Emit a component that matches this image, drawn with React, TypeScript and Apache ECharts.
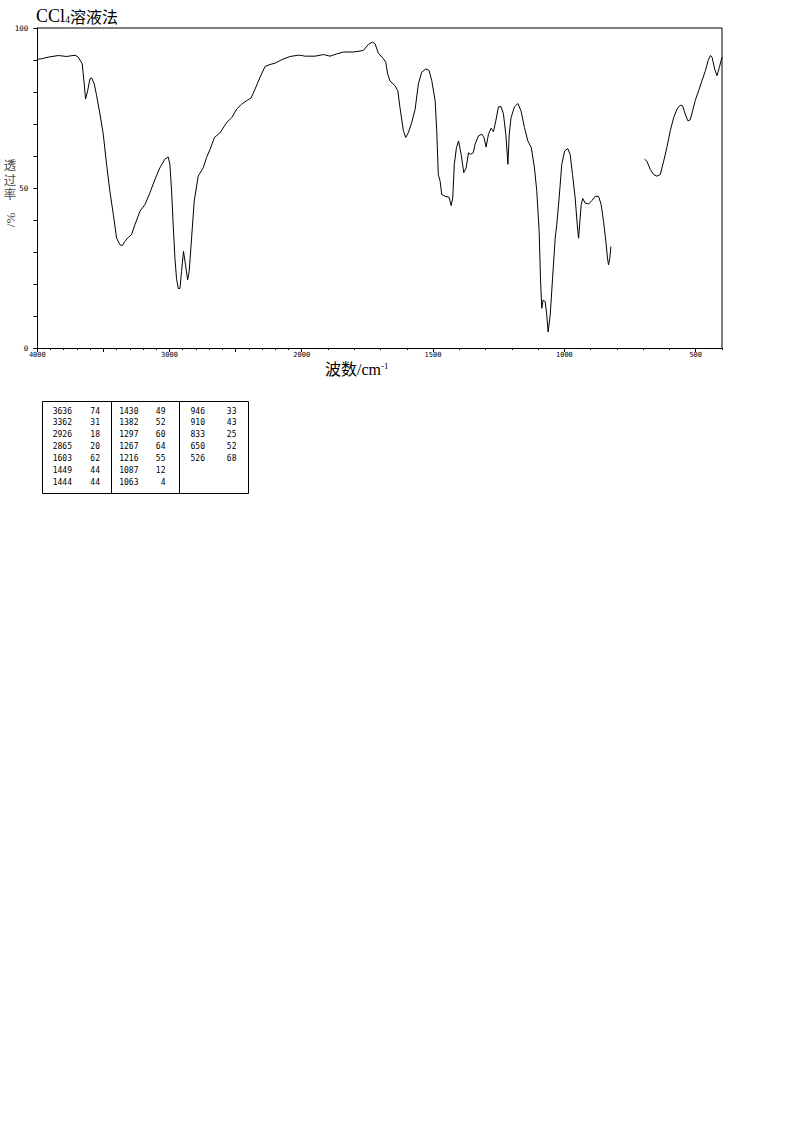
import React, { useEffect, useRef } from "react";
import * as echarts from "echarts";

// ---- Spectrum data (wavenumber cm-1, transmittance %) ----
const highWn = [4000,3967,3917,3841,3778,3715,3690,3660,3645,3635,3619,3602,3589,3569,3551,3526,3501,3476,3451,3425,3400,3375,3357,3337,3312,3287,3262,3224,3186,3148,3110,3073,3035,3010,2997,2984,2972,2959,2947,2934,2921,2909,2894,2879,2863,2851,2833,2813,2783,2745,2720,2693,2660,2617,2567,2529,2491,2454,2416,2383,2353,2315,2277,2239,2202,2151,2088,2025,2000];
const highT = [90.2,90.4,90.9,91.4,91.1,91.5,90.9,88.8,82.5,77.8,80.4,84.1,84.4,82.5,78.8,73.1,66.8,57.4,49.0,41.7,34.3,32.3,32.0,33.3,34.6,35.4,38.5,42.7,44.8,48.5,52.7,56.3,59.0,59.7,57.4,49.0,38.5,28.1,21.8,18.6,18.6,23.9,30.2,26.0,21.3,23.9,34.3,45.9,53.7,56.3,59.5,62.1,65.8,67.3,70.5,72.0,74.7,76.2,77.3,78.1,80.9,84.6,88.0,88.6,89.0,90.1,91.1,91.5,91.4];

const midWn = [2000,1987,1949,1917,1892,1867,1841,1803,1778,1765,1746,1731,1721,1708,1689,1680,1673,1664,1645,1634,1626,1613,1604,1594,1581,1568,1556,1543,1528,1515,1505,1492,1486,1480,1473,1467,1454,1439,1431,1425,1419,1411,1403,1393,1383,1374,1365,1358,1347,1340,1327,1314,1306,1298,1289,1279,1270,1261,1251,1241,1232,1223,1215,1210,1203,1190,1177,1165,1152,1139,1126,1114,1105,1096,1091,1086,1081,1073,1067,1062,1054,1045,1035,1029,1020,1010,999,987,978,969,959,951,946,941,936,930,921,908,895,883,870,860,851,842,836,832,827,823];
const midT = [91.4,91.2,91.2,91.7,91.2,91.9,92.5,92.5,92.8,93.0,94.9,95.6,95.1,92.1,90.4,89.3,85.7,83.4,82.0,80.4,75.2,67.9,65.8,67.3,70.5,74.7,82.5,86.2,87.2,86.7,83.6,77.3,67.9,54.2,52.1,48.0,47.4,47.1,44.5,46.9,57.4,62.6,64.7,60.5,54.8,56.3,61.0,60.5,61.0,63.7,66.3,66.8,65.8,62.8,66.8,68.7,67.6,71.0,75.4,75.4,73.1,66.8,57.4,66.8,72.0,75.4,76.4,74.1,68.9,64.7,62.6,56.3,49.0,36.4,21.8,12.4,15.0,14.5,10.3,5.0,10.3,21.8,34.3,38.5,46.9,57.4,61.6,62.3,60.5,54.2,46.9,38.5,34.3,39.6,44.8,46.7,45.3,45.0,46.1,47.4,47.4,44.8,39.6,33.3,28.1,26.0,28.1,31.7];

const farWn = [695,686,673,660,648,635,622,610,597,584,571,559,550,540,530,521,512,502,489,476,463,453,444,438,428,419,410,400];
const farT = [59.0,58.4,55.8,54.2,53.7,54.2,58.4,62.6,67.9,72.0,74.7,75.9,75.7,73.1,71.0,71.3,74.1,77.3,80.4,83.6,86.7,89.8,91.4,90.9,87.2,85.1,87.7,90.9];

// ---- Peak table ----
const peakWn = [3636,3362,2926,2865,1603,1449,1444,1430,1382,1297,1267,1216,1087,1063,946,910,833,650,526];
const peakT = [74,31,18,20,62,44,44,49,52,60,64,55,12,4,33,43,25,52,68];

// ---- Texts / ticks ----
const titleMain = "CCl";
const titleSub = "4";
const titleCn = "溶液法";
const xName = "波数/cm";
const xNameSup = "-1";
const yNameChars = ["透", "过", "率"];
const yNameUnit = "/%";
const highLabels = [4000, 3000, 2000];
const lowLabels = [1500, 1000, 500];
const lowBigTicks = [500, 1000, 1500, 2000];
const yLabels = [0, 50, 100];

const zip = (a: number[], b: number[]) => a.map((v, i) => [v, b[i]]);

// layout (page pixels)
const PL = 37.3;
const PS = 301.7;
const PR = 722;
const PT = 28;
const PB = 348;

const tickFont = "DejaVu Sans Mono";
const serifCjk = '"Liberation Serif", "Noto Sans CJK SC"';

function buildTable() {
  const els: any[] = [];
  const x0 = 42, y0 = 401, w = 206, h = 92;
  els.push({ type: "rect", shape: { x: x0 + 0.5, y: y0 + 0.5, width: w, height: h }, style: { fill: "none", stroke: "#000", lineWidth: 1 } });
  [111.5, 179.5].forEach((x) =>
    els.push({ type: "line", shape: { x1: x, y1: y0 + 0.5, x2: x, y2: y0 + h + 0.5 }, style: { stroke: "#000", lineWidth: 1 } })
  );
  const wnRight = [72, 138.5, 205];
  const tRight = [100, 165.5, 236.5];
  peakWn.forEach((wn, i) => {
    const col = Math.floor(i / 7);
    const row = i % 7;
    const y = 411 + row * 11.9;
    els.push({ type: "text", x: wnRight[col], y, style: { text: String(wn), fontSize: 8, fontFamily: tickFont, fill: "#000", align: "right", verticalAlign: "middle" } });
    els.push({ type: "text", x: tRight[col], y, style: { text: String(peakT[i]), fontSize: 8, fontFamily: tickFont, fill: "#000", align: "right", verticalAlign: "middle" } });
  });
  return els;
}

export default function App() {
  const ref = useRef<HTMLDivElement>(null);
  useEffect(() => {
    const chart = echarts.init(ref.current!, null, { renderer: "svg" });
    const lineStyle = { color: "#000", width: 1 };
    const axisLine = { show: true, onZero: false, lineStyle: { color: "#000", width: 1 } };
    const option: any = {
      animation: false,
      grid: [
        { left: PL, top: PT, width: PS - PL, height: PB - PT },
        { left: PS, top: PT, width: PR - PS, height: PB - PT },
      ],
      xAxis: [
        {
          type: "value", gridIndex: 0, position: "bottom", inverse: true, min: 2000, max: 4000, interval: 100,
          axisLine, splitLine: { show: false },
          axisTick: { show: true, length: 2, lineStyle: { color: "#000" } },
          axisLabel: { fontSize: 7, fontFamily: tickFont, color: "#000", margin: 3, formatter: (v: number) => (highLabels.includes(v) ? String(v) : "") },
        },
        {
          type: "value", gridIndex: 0, position: "bottom", inverse: true, min: 2000, max: 4000, interval: 500,
          axisLine: { show: false, onZero: false }, splitLine: { show: false },
          axisTick: { show: true, length: 4, lineStyle: { color: "#000" } },
          axisLabel: { show: false },
        },
        {
          type: "value", gridIndex: 1, position: "bottom", inverse: true, min: 400, max: 2000, interval: 100,
          axisLine, splitLine: { show: false },
          axisTick: { show: true, length: 2, lineStyle: { color: "#000" } },
          axisLabel: { fontSize: 7, fontFamily: tickFont, color: "#000", margin: 3, formatter: (v: number) => (lowLabels.includes(v) ? String(v) : "") },
        },
        {
          type: "value", gridIndex: 1, position: "bottom", inverse: true, min: 400, max: 2000, interval: 100,
          axisLine: { show: false, onZero: false }, splitLine: { show: false },
          axisTick: { show: true, length: 4, customValues: lowBigTicks, lineStyle: { color: "#000" } },
          axisLabel: { show: false },
        },
      ],
      yAxis: [
        {
          type: "value", gridIndex: 0, min: 0, max: 100, interval: 10, position: "left",
          axisLine, splitLine: { show: false },
          axisTick: { show: true, length: 4, lineStyle: { color: "#000" } },
          axisLabel: { fontSize: 7.5, fontFamily: tickFont, color: "#000", margin: 9, formatter: (v: number) => (yLabels.includes(v) ? String(v) : "") },
        },
        { type: "value", gridIndex: 1, min: 0, max: 100, show: false },
      ],
      series: [
        { type: "line", xAxisIndex: 0, yAxisIndex: 0, data: zip(highWn, highT), symbol: "none", lineStyle, silent: true },
        { type: "line", xAxisIndex: 2, yAxisIndex: 1, data: zip(midWn, midT), symbol: "none", lineStyle, silent: true },
        { type: "line", xAxisIndex: 2, yAxisIndex: 1, data: zip(farWn, farT), symbol: "none", lineStyle, silent: true },
      ],
      graphic: [
        { type: "line", shape: { x1: PL, y1: PT, x2: PR, y2: PT }, style: { stroke: "#000", lineWidth: 1 } },
        { type: "line", shape: { x1: PR, y1: PT, x2: PR, y2: PB }, style: { stroke: "#000", lineWidth: 1 } },
        {
          type: "text", x: 36, y: 15.5,
          style: {
            text: `{a|${titleMain}}{b|${titleSub}}{c|${titleCn}}`,
            verticalAlign: "middle", align: "left",
            rich: {
              a: { fontSize: 18, fontFamily: "Liberation Serif", fill: "#000", color: "#000" },
              b: { fontSize: 10, fontFamily: "Liberation Serif", fill: "#000", color: "#000", verticalAlign: "bottom" },
              c: { fontSize: 16, fontFamily: '"Noto Sans CJK SC"', fill: "#000", color: "#000" },
            },
          },
        },
        {
          type: "text", x: 325, y: 369.5,
          style: {
            text: `{a|${xName}}{b|${xNameSup}}`,
            verticalAlign: "middle", align: "left",
            rich: {
              a: { fontSize: 16, fontFamily: serifCjk, fill: "#000", color: "#000" },
              b: { fontSize: 9, fontFamily: "Liberation Serif", fill: "#000", color: "#000", verticalAlign: "top" },
            },
          },
        },
        ...yNameChars.map((ch, i) => ({
          type: "text", x: 10, y: 166 + i * 14.5,
          style: { text: ch, fontSize: 12.5, fontFamily: serifCjk, fill: "#4d4d4d", align: "center", verticalAlign: "middle" },
        })),
        {
          type: "text", x: 10, y: 220, rotation: Math.PI / 2,
          style: { text: yNameUnit, fontSize: 13, fontFamily: "Liberation Serif", fill: "#4d4d4d", align: "center", verticalAlign: "middle" },
        },
        ...buildTable(),
      ],
    };
    chart.setOption(option);
    return () => chart.dispose();
  }, []);
  return (
    <div
      ref={ref}
      style={{ position: "absolute", left: 0, top: 0, width: 794, height: 1134, background: "#fff" }}
    />
  );
}
